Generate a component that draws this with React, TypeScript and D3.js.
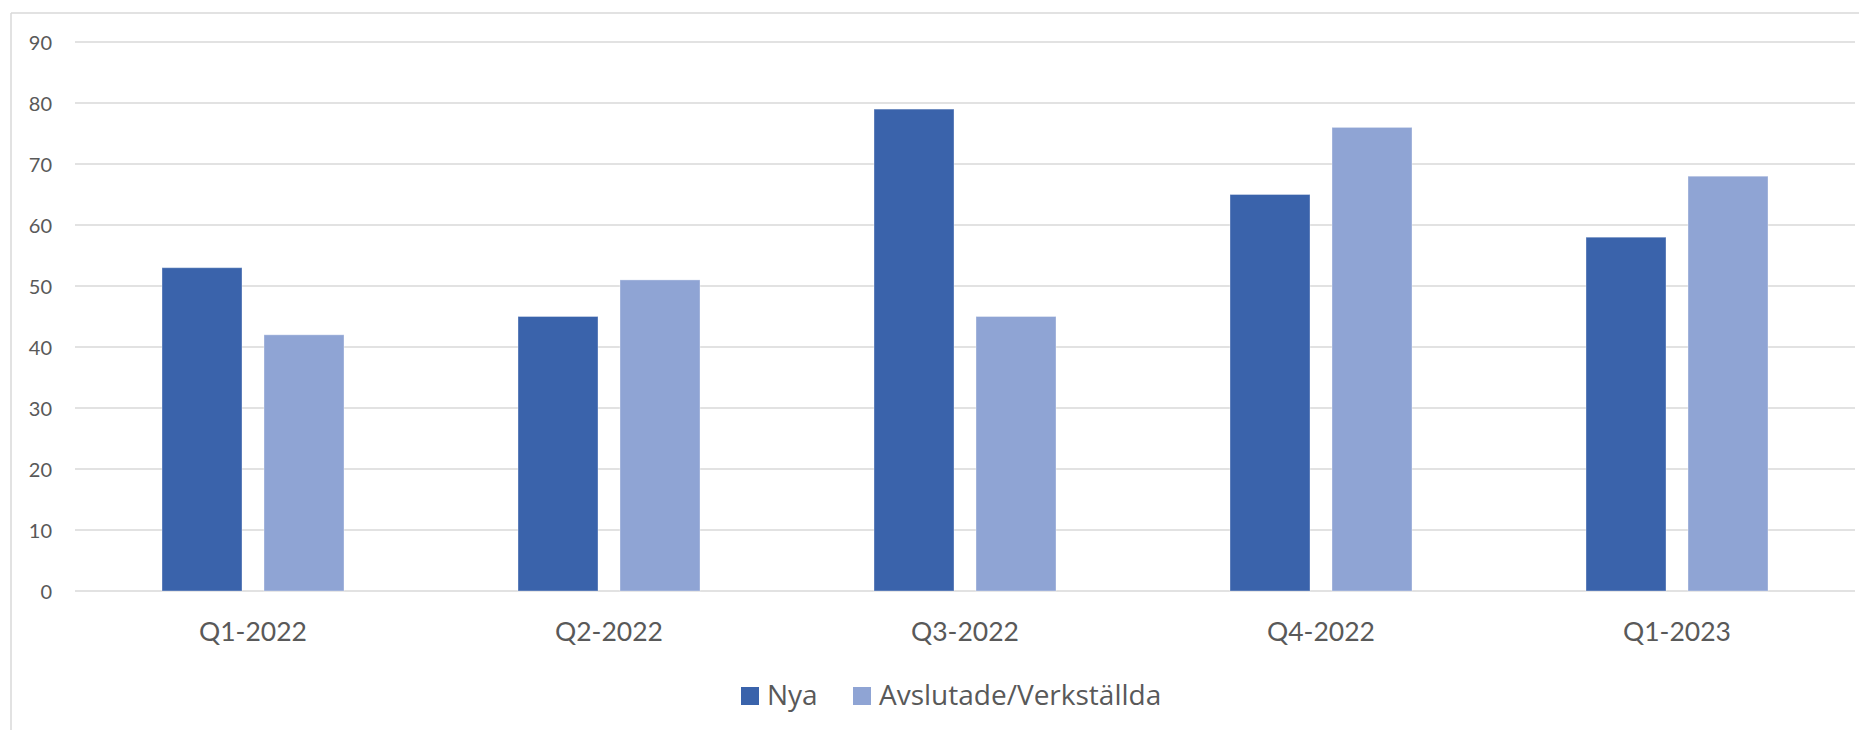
import React from "react";
import * as d3 from "d3";

const categories = ["Q1-2022", "Q2-2022", "Q3-2022", "Q4-2022", "Q1-2023"];
const seriesNames = ["Nya", "Avslutade/Verkställda"];
const nyaValues = [53, 45, 79, 65, 58];
const avslutadeValues = [42, 51, 45, 76, 68];
const yTicks = [0, 10, 20, 30, 40, 50, 60, 70, 80, 90];
const colors = ["#3A63AB", "#8FA4D4"];

const W = 1859;
const H = 730;
const plotLeft = 75;
const plotRight = 1855;
const plotTop = 42;
const plotBottom = 591;
const textColor = "#595959";
const gridColor = "#D9D9D9";
const font = "Lato, 'Open Sans', sans-serif";
const legendFont = "'Open Sans', Lato, sans-serif";

export default function App() {
  const x = d3.scaleBand<string>().domain(categories).range([plotLeft, plotRight]).padding(0);
  const step = x.bandwidth();
  const groupW = 182;
  const inner = d3
    .scaleBand<string>()
    .domain(seriesNames)
    .range([(step - groupW) / 2, (step + groupW) / 2])
    .paddingInner(22 / 102)
    .paddingOuter(0);
  const y = d3.scaleLinear().domain([0, 90]).range([plotBottom, plotTop]);
  const seriesValues = [nyaValues, avslutadeValues];

  return (
    <div style={{ position: "absolute", left: 0, top: 0 }}>
      <svg width={W} height={H} style={{ display: "block", background: "#fff" }}>
        <rect x={0} y={0} width={W} height={H} fill="#fff" />
        {/* chart border */}
        <line x1={11} x2={11} y1={13} y2={H} stroke={gridColor} strokeWidth={1.5} />
        <line x1={11} x2={W} y1={13} y2={13} stroke={gridColor} strokeWidth={1.5} />
        {/* gridlines */}
        {yTicks.map((t) => (
          <g key={t}>
            <line
              x1={plotLeft}
              x2={plotRight}
              y1={y(t)}
              y2={y(t)}
              stroke={gridColor}
              strokeWidth={1.5}
            />
            <text
              x={52}
              y={y(t) + 7.5}
              textAnchor="end"
              fontFamily={font}
              fontSize={20}
              fill={textColor}
            >
              {t}
            </text>
          </g>
        ))}
        {/* bars */}
        {categories.map((c, i) => (
          <g key={c} transform={`translate(${x(c)},0)`}>
            {seriesNames.map((s, j) => {
              const v = seriesValues[j][i];
              return (
                <rect
                  key={s}
                  x={inner(s)}
                  y={y(v)}
                  width={inner.bandwidth()}
                  height={y(0) - y(v)}
                  fill={colors[j]}
                  stroke="#FFFFFF"
                  strokeOpacity={0.35}
                  strokeWidth={1}
                />
              );
            })}
            <text
              x={step / 2}
              y={641}
              textAnchor="middle"
              fontFamily={font}
              fontSize={26.5}
              fill={textColor}
            >
              {c}
            </text>
          </g>
        ))}
        {/* legend */}
        <g>
          <rect x={741} y={687} width={18} height={18} fill={colors[0]} />
          <text x={767} y={705} fontFamily={legendFont} fontSize={28} fill={textColor}>
            {seriesNames[0]}
          </text>
          <rect x={853} y={687} width={18} height={18} fill={colors[1]} />
          <text x={879} y={705} fontFamily={legendFont} fontSize={28} fill={textColor}>
            {seriesNames[1]}
          </text>
        </g>
      </svg>
    </div>
  );
}
